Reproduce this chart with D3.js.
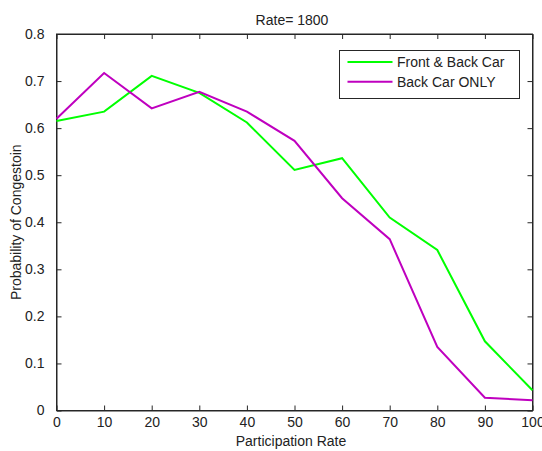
<!DOCTYPE html>
<html><head><meta charset="utf-8">
<script src="https://cdn.jsdelivr.net/npm/d3@7"></script>
<style>body{margin:0;background:#fff}svg{display:block}text{font-family:"Liberation Sans",Arial,sans-serif}</style>
</head><body>
<script>
const rates = [0,10,20,30,40,50,60,70,80,90,100];
const frontBack = [0.615,0.635,0.711,0.675,0.612,0.511,0.536,0.410,0.341,0.147,0.043];
const backOnly = [0.620,0.717,0.642,0.677,0.635,0.573,0.451,0.364,0.135,0.027,0.022];
const xTicks = [0,10,20,30,40,50,60,70,80,90,100];
const yTicks = [0,0.1,0.2,0.3,0.4,0.5,0.6,0.7,0.8];
const seriesNames = ["Front & Back Car","Back Car ONLY"];
const colors = ["#00ff00","#bf00bf"];

const W=542,H=451;
const L=56.5,R=532.5,T=34,B=410.5;
const FS="14px";
const svg=d3.select("body").append("svg").attr("width",W).attr("height",H);
const x=d3.scaleLinear().domain([0,100]).range([L,R]);
const y=d3.scaleLinear().domain([0,0.8]).range([B,T]);
const ax="#262626";
svg.append("rect").attr("x",L).attr("y",T).attr("width",R-L).attr("height",B-T).attr("fill","#fff").attr("stroke",ax).attr("stroke-width",1);

const fmtY=d=>d===0?"0":d3.format(".1f")(d);
const gx=svg.append("g").attr("transform",`translate(0,${B})`).call(d3.axisBottom(x).tickValues(xTicks).tickSizeInner(-5).tickSizeOuter(0).tickPadding(7));
const gxt=svg.append("g").attr("transform",`translate(0,${T})`).call(d3.axisTop(x).tickValues(xTicks).tickSizeInner(-5).tickSizeOuter(0).tickFormat(""));
const gy=svg.append("g").attr("transform",`translate(${L},0)`).call(d3.axisLeft(y).tickValues(yTicks).tickSizeInner(-5).tickSizeOuter(0).tickPadding(12).tickFormat(fmtY));
const gyr=svg.append("g").attr("transform",`translate(${R},0)`).call(d3.axisRight(y).tickValues(yTicks).tickSizeInner(-5).tickSizeOuter(0).tickFormat(""));
[gx,gxt,gy,gyr].forEach(g=>{g.select(".domain").attr("stroke",ax);g.selectAll("line").attr("stroke",ax);g.selectAll("text").attr("fill","#222").style("font-size",FS).style("font-family","'Liberation Sans',Arial,sans-serif");});
gx.selectAll("text").attr("dy","0.71em");

const line=d3.line().x((d,i)=>x(rates[i])).y(d=>y(d));
[frontBack,backOnly].forEach((s,k)=>{
 svg.append("path").datum(s).attr("d",line).attr("fill","none").attr("stroke",colors[k]).attr("stroke-width",2);
});

svg.append("text").attr("x",292).attr("y",25).attr("text-anchor","middle").style("font-size",FS).attr("fill","#222").text("Rate= 1800");
svg.append("text").attr("x",291).attr("y",446).attr("text-anchor","middle").style("font-size",FS).attr("fill","#222").text("Participation Rate");
svg.append("text").attr("transform",`translate(21,${(T+B)/2}) rotate(-90)`).attr("text-anchor","middle").style("font-size",FS).attr("fill","#222").text("Probability of Congestoin");

const lg=svg.append("g");
lg.append("rect").attr("x",339.5).attr("y",50.5).attr("width",180).attr("height",48).attr("fill","#fff").attr("stroke",ax);
seriesNames.forEach((n,i)=>{
 const yy=62+i*19.7;
 lg.append("line").attr("x1",347.5).attr("x2",392.5).attr("y1",yy).attr("y2",yy).attr("stroke",colors[i]).attr("stroke-width",2);
 lg.append("text").attr("x",397).attr("y",yy+5).style("font-size",FS).attr("fill","#222").text(n);
});
</script>
</body></html>
